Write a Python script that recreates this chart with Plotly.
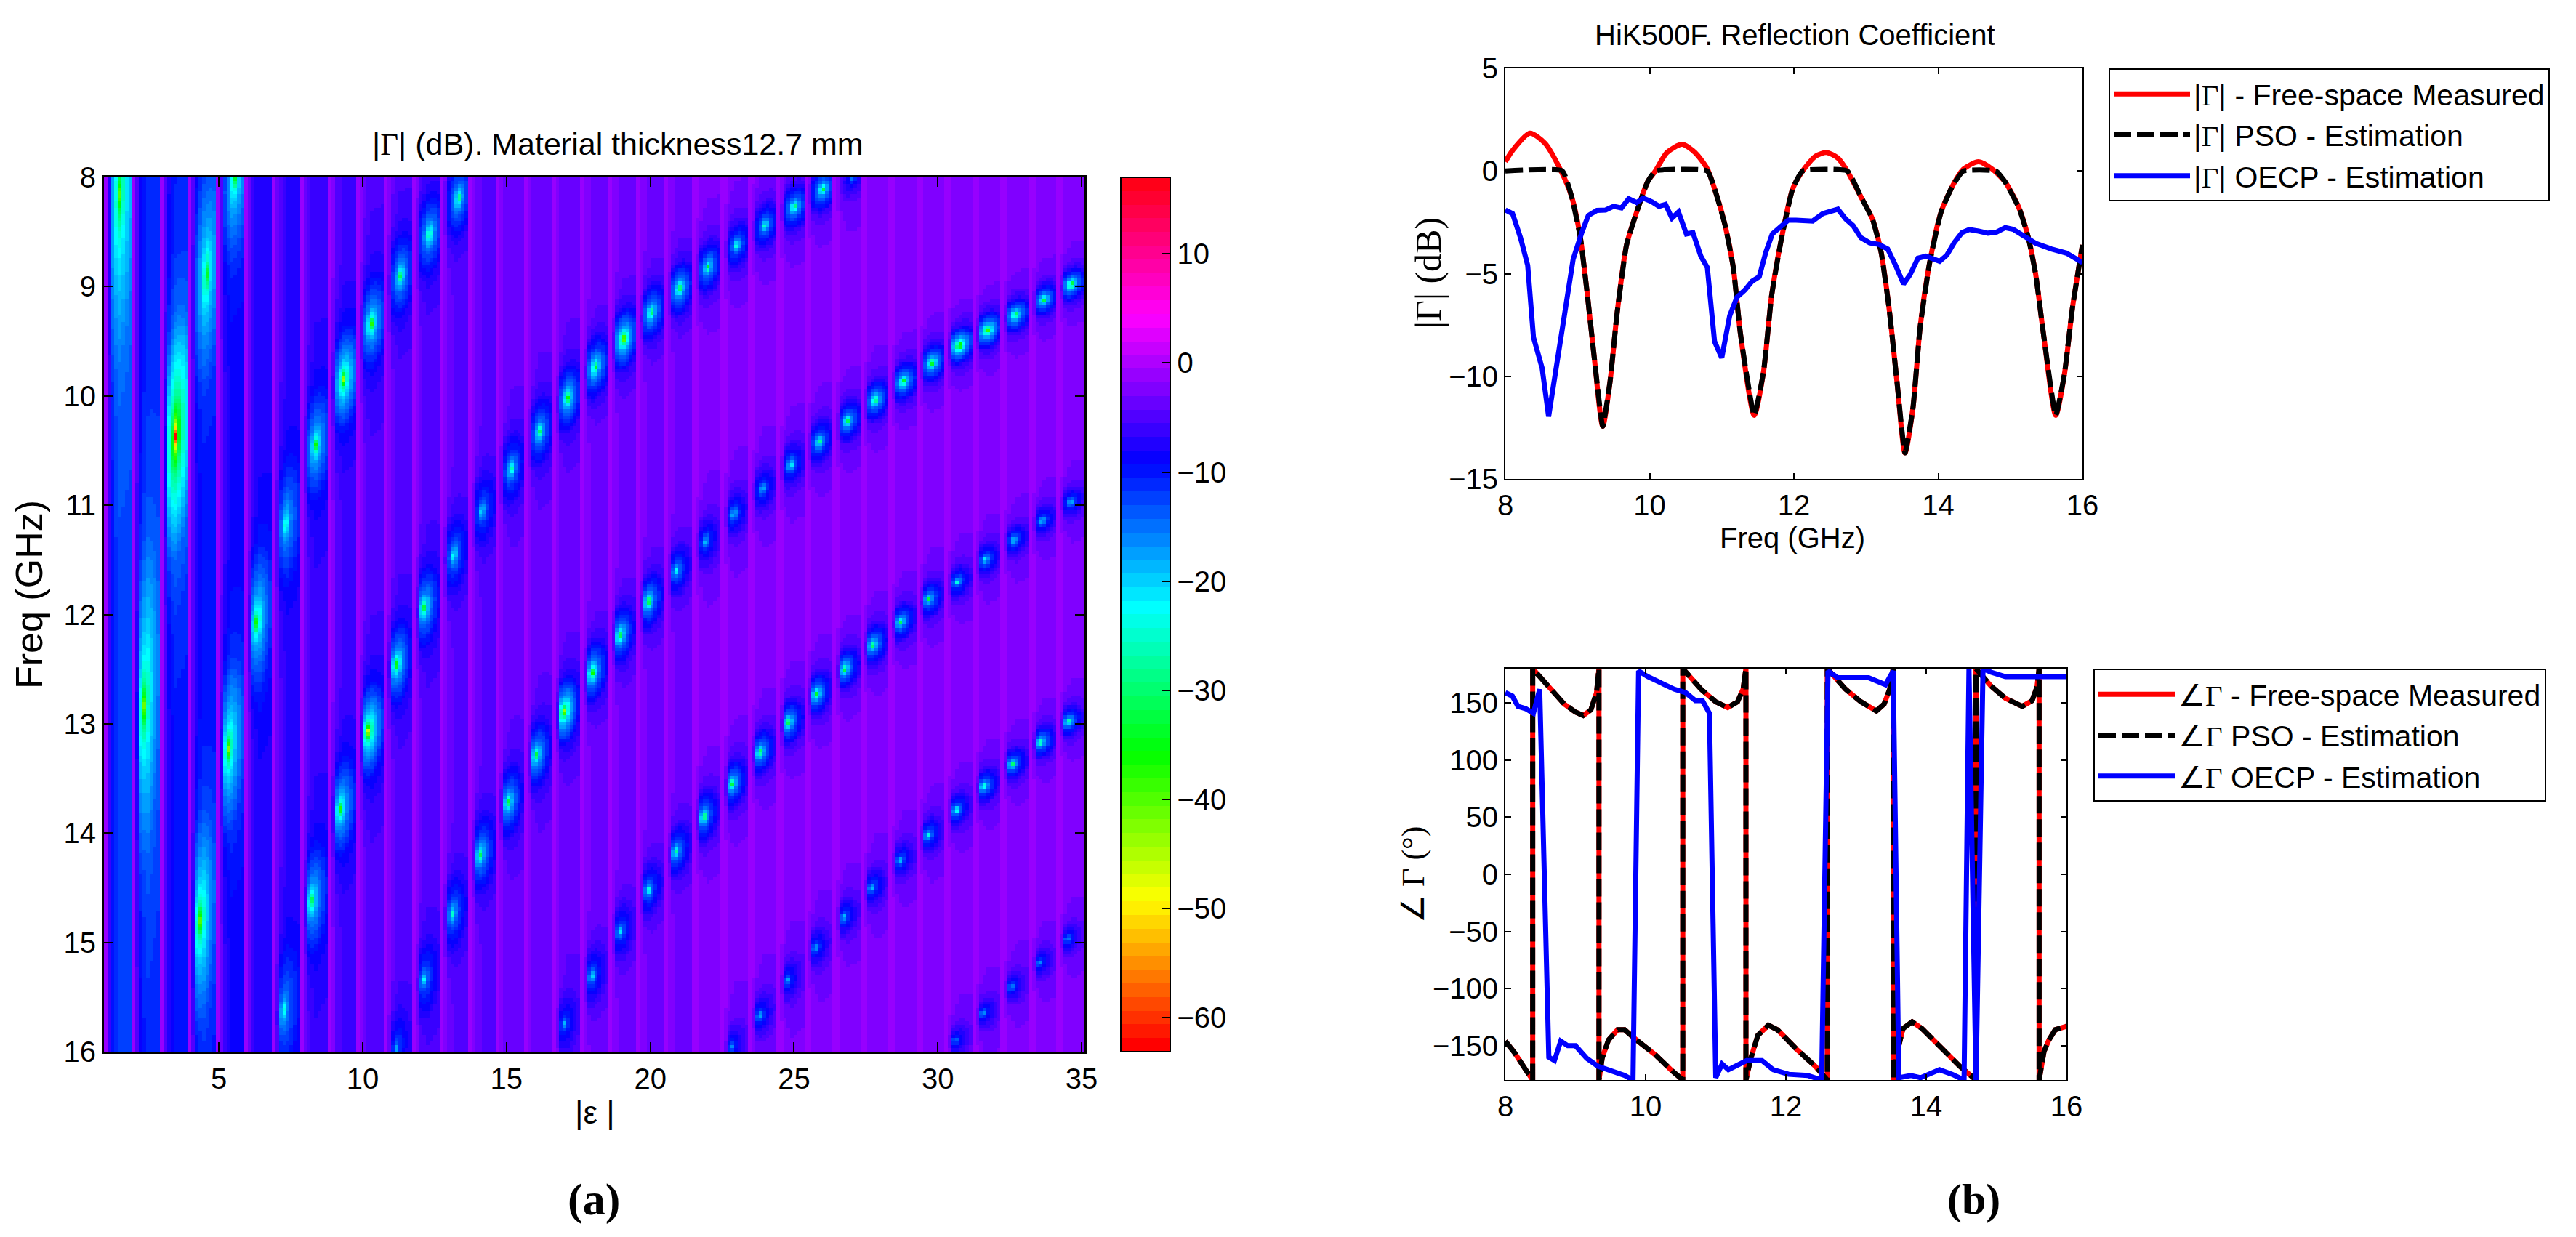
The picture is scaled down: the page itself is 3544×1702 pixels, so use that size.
import colorsys
import numpy as np
import plotly.graph_objects as go

W, H = 3544, 1702
GAMMA = "<span style=\"font-family:'Liberation Serif'\">Γ</span>"
SANS = "Liberation Sans"

# --- panel (a): notches, one block per ridge ----------------------------------
# stripe index, centre frequency (GHz), depth (dB), position across the stripe
m1_stripe = [4, 3, 2, 1, 0]
m1_freq = [8.0, 8.9, 10.37, 12.84, 8.15]
m1_db = [-32, -32, -58, -36, -32]
m1_frac = [.67, .66, .56, .43, .57]

r0_stripe = [12, 11, 10, 9, 8, 7, 6, 5, 4, 3]
r0_freq = [8.19, 8.52, 8.9, 9.34, 9.85, 10.45, 11.17, 12.07, 13.23, 14.81]
r0_db = [-33, -33, -33, -37, -45, -33, -28, -35, -40, -38]
r0_frac = [.66, .62, .58, .55, .56, .56, .49, .45, .44, .42]

r1_stripe = [26, 25, 24, 23, 22, 21, 20, 19, 18, 17, 16, 15, 14, 13, 12, 11, 10, 9, 8, 7, 6]
r1_freq = [8.01, 8.11, 8.27, 8.44, 8.62, 8.82, 9.02, 9.24, 9.48, 9.74, 10.02, 10.33, 10.67,
           11.05, 11.46, 11.94, 12.46, 13.07, 13.78, 14.62, 15.63]
r1_db = [-18, -38, -37, -32, -30, -36, -38, -38, -48, -40, -38, -33, -30, -25, -28, -36,
         -38, -48, -38, -34, -25]
r1_frac = [.72, .66, .65, .6, .6, .56, .54, .53, .55, .53, .55, .54, .53, .49, .48, .42,
           .43, .44, .43, .41, .4]

r2_stripe = [34, 33, 32, 31, 30, 29, 28, 27, 26, 25, 24, 23, 22, 21, 20, 19, 18, 17, 16, 15, 14, 13, 12, 11, 10]
r2_freq = [8.98, 9.12, 9.26, 9.4, 9.54, 9.7, 9.87, 10.04, 10.23, 10.42, 10.63, 10.85, 11.08,
           11.33, 11.6, 11.88, 12.19, 12.53, 12.89, 13.29, 13.72, 14.2, 14.74, 15.34, 15.97]
r2_db = [-43, -38, -42, -48, -52, -41, -41, -38, -36, -33, -28, -25, -25, -25, -28, -37,
         -38, -41, -50, -37, -36, -34, -28, -23, -18]
r2_frac = [.53, .54, .53, .53, .53, .55, .54, .52, .54, .53, .52, .5, .49, .48, .42, .43,
           .42, .43, .42, .42, .42, .42, .43, .42, .43]

r3_stripe = [34, 33, 32, 31, 30, 29, 28, 27, 26, 25, 24, 23, 22, 21, 20, 19, 18, 17, 16]
r3_freq = [10.97, 11.14, 11.32, 11.5, 11.7, 11.86, 12.07, 12.28, 12.5, 12.73, 12.99, 13.26,
           13.55, 13.85, 14.17, 14.52, 14.9, 15.31, 15.75]
r3_db = [-25, -26, -27, -28, -28, -33, -35, -37, -38, -38, -38, -37, -37, -36, -32, -28, -25, -25, -20]
r3_frac = [.5, .5, .48, .46, .45, .44, .44, .44, .43, .43, .43, .42, .42, .41, .41, .42, .42, .4, .42]

r4_stripe = [34, 33, 32, 31, 30, 29, 28, 27, 26, 25, 24, 23, 22]
r4_freq = [12.98, 13.17, 13.37, 13.57, 13.79, 14.02, 14.25, 14.5, 14.77, 15.05, 15.35, 15.67, 15.96]
r4_db = [-34, -37, -33, -34, -30, -28, -25, -25, -25, -23, -22, -23, -20]
r4_frac = [.42, .42, .42, .41, .41, .41, .41, .4, .4, .4, .4, .4, .4]

r5_stripe = [34, 33, 32, 31, 30]
r5_freq = [14.97, 15.19, 15.41, 15.65, 15.9]
r5_db = [-22, -22, -22, -22, -20]
r5_frac = [.38, .38, .38, .38, .38]

# background level of each stripe (dB), and its gradient across one stripe
stripe_level = [-12, -10.5, -9.5, -9, -8, -7, -6.5, -6, -5.5, -5, -4.5, -4.5, -4, -4, -3.5, -3.5, -3.5, -3,
                -3, -3, -3, -2.5, -2.5, -2.5, -2.5, -2.5, -2.5, -2.5, -2.5, -2.5, -2.5, -2.5, -2.5, -2.5, -2.5]
stripe_shape = [0.05, 0.45, 0.75, 0.9, 1, 1, 1, 1]
spot_mask = [0.02, 0.3, 1, 1, 1, 1, 1, 1]
# vertical size of a notch in each stripe (GHz)
spot_height = [1.1, 1.05, .75, .7, .55, .47, .42, .36, .32, .3, .28, .27, .26, .25, .24, .23, .22, .21,
               .2, .19, .18, .18, .17, .16, .155, .15, .14, .14, .13, .13, .12, .12, .115, .11, .11]
spot_width = 0.42
spot_r = [0, .1, .2, .35, .5, .75, 1, 1.5, 2.2, 3.5]
spot_drop = [1, .75, .55, .42, .33, .25, .19, .08, .03, 0]

# panel (a) axis and colour scale
eps_range = [1, 35.1]
freq_range = [16, 8]
db_range = [-63.1, 17]
cbar_ticks = [-60, -50, -40, -30, -20, -10, 0, 10]

# --- panel (b): curves -------------------------------------------------------
mag_freq = [8, 8.1, 8.34, 8.55, 8.76, 8.92, 9.04, 9.13, 9.23, 9.35, 9.45, 9.55, 9.68, 9.82, 9.97, 10.08,
            10.24, 10.45, 10.63, 10.8, 10.92, 11.05, 11.16, 11.26, 11.45, 11.58, 11.69, 11.82, 11.98,
            12.12, 12.3, 12.45, 12.61, 12.74, 12.93, 13.09, 13.21, 13.32, 13.43, 13.54, 13.65, 13.75,
            13.88, 14.04, 14.2, 14.35, 14.56, 14.75, 14.93, 15.12, 15.25, 15.35, 15.46, 15.63, 15.75,
            15.86, 16]
mag_measured = [.45, 1.0, 1.84, 1.35, .09, -1.26, -3.25, -5.8, -9, -12.43, -10.3, -6.9, -3.6, -2, -.54, 0,
                .9, 1.3, .9, .1, -1.08, -2.7, -4.7, -7.95, -11.9, -9.76, -6.1, -3.43, -.9,
                0, .72, .9, .63, 0, -1.26, -2.35, -3.97, -6.7, -10.3, -13.73, -11.56, -7.6,
                -4.5, -2, -.72, .09, .45, .09, -.54, -1.8, -3.25, -5, -7.95, -11.9, -9.9,
                -6.7, -3.6]
mag_pso_freq = [8, 8.79, 8.92, 9.04, 9.13, 9.23, 9.35, 9.45, 9.55, 9.68, 9.82, 9.97, 10.08,
                10.8, 10.92, 11.05, 11.16, 11.26, 11.45, 11.58, 11.69, 11.82, 11.98,
                12.12, 12.74, 12.93, 13.09, 13.21, 13.32, 13.43, 13.54, 13.65, 13.75,
                13.88, 14.04, 14.2, 14.35, 14.8, 14.93, 15.12, 15.25, 15.35, 15.46, 15.63, 15.75,
                15.86, 16]
mag_pso = [0, 0, -1.26, -3.25, -5.8, -9, -12.43, -10.3, -6.9, -3.6, -2, -.54, 0,
           0, -1.08, -2.7, -4.7, -7.95, -11.9, -9.76, -6.1, -3.43, -.9,
           0, 0, -1.26, -2.35, -3.97, -6.7, -10.3, -13.73, -11.56, -7.6,
           -4.5, -2, -.72, 0, 0, -.54, -1.8, -3.25, -5, -7.95, -11.9, -9.9,
           -6.7, -3.6]
oecp_freq = [8, 8.1, 8.21, 8.31, 8.39, 8.51, 8.6, 8.73, 8.84, 8.94, 9.06, 9.15, 9.27, 9.39, 9.5, 9.61, 9.71,
             9.82, 9.91, 10.03, 10.13, 10.22, 10.31, 10.4, 10.51, 10.6, 10.71, 10.8, 10.9, 11, 11.11, 11.21,
             11.32, 11.42, 11.52, 11.61, 11.7, 11.82, 11.92, 12.03, 12.14, 12.26, 12.4, 12.61, 12.72, 12.82,
             12.93, 13.05, 13.18, 13.3, 13.41, 13.52, 13.61, 13.72, 13.83, 13.93, 14.02, 14.12, 14.22, 14.33,
             14.43, 14.56, 14.69, 14.81, 14.93, 15.04, 15.2, 15.35, 15.57, 15.78, 16]
mag_oecp = [-1.9, -2.08, -3.25, -4.6, -8.1, -9.6, -11.96, -9, -6.7, -4.3, -3, -2.17, -1.92, -1.9, -1.72, -1.8, -1.35,
            -1.54, -1.32, -1.5, -1.72, -1.63, -2.3, -2, -3.07, -3, -4.15, -4.7, -8.3, -9.1, -7.05, -6.15,
            -5.8, -5.37, -5.15, -3.97, -3.07, -2.7, -2.4, -2.4, -2.4, -2.44, -2.08, -1.86, -2.35, -2.66,
            -3.25, -3.5, -3.58, -3.8, -4.6, -5.5, -5.05, -4.25, -4.15, -4.3, -4.4, -4.1, -3.5, -3,
            -2.85, -2.93, -3.03, -2.98, -2.76, -2.84, -3.2, -3.52, -3.8, -4, -4.46]

ang_freq = [8, 8.13, 8.29, 8.37, 8.39, 8.39, 8.62, 8.84, 9, 9.11, 9.22, 9.3, 9.335, 9.335, 9.38, 9.47, 9.6, 9.7,
            9.87, 10.14, 10.36, 10.53, 10.53, 10.79, 11, 11.17, 11.31, 11.39, 11.43, 11.43, 11.5, 11.6, 11.75,
            11.88, 12.15, 12.42, 12.59, 12.59, 12.85, 13.07, 13.29, 13.4, 13.48, 13.53, 13.53, 13.59, 13.67,
            13.8, 13.94, 14.21, 14.48, 14.71, 14.71, 14.92, 15.13, 15.37, 15.51, 15.58, 15.61, 15.61, 15.68,
            15.75, 15.84, 16]
ang_measured = [-146, -156, -171, -178, -180, 180, 164, 149, 142, 139, 144, 159, 180, -180, -161, -145, -136, -136,
                -145, -158, -171, -180, 180, 162, 151, 146, 151, 162, 180, -180, -161, -141, -132,
                -136, -153, -168, -180, 180, 162, 151, 143, 149, 162, 180, -180, -155, -135,
                -129, -135, -151, -168, -180, 180, 165, 154, 147, 152, 164, 180, -180, -155,
                -145, -136, -133]
ang_pso = list(ang_measured)
ang_oecp_freq = [8, 8.1, 8.18, 8.29, 8.4, 8.49, 8.62, 8.7, 8.79, 8.89, 9, 9.16, 9.32, 9.54, 9.7, 9.82, 9.9,
                 10.03, 10.19, 10.41, 10.57, 10.71, 10.81, 10.91, 11, 11.09, 11.18, 11.44, 11.66, 11.82, 12.04,
                 12.31, 12.51, 12.6, 12.74, 13.18, 13.42, 13.53, 13.61, 13.78, 13.92, 14.19, 14.37, 14.54,
                 14.61, 14.71, 14.81, 14.92, 15.13, 15.57, 16]
ang_oecp = [159, 156, 147, 145, 141, 162, -160, -163, -146, -150, -150, -161, -168, -172, -176, -180, 178,
            173, 168, 162, 159, 152, 152, 141, -178, -166, -171, -163, -163, -171, -175,
            -176, -180, 178, 172, 172, 166, 178, -178, -176, -178, -171, -175, -180,
            180, -180, 180, 177, 173, 173, 173]

mag_ticks = [5, 0, -5, -10, -15]
ang_ticks = [-150, -100, -50, 0, 50, 100, 150]
freq_ticks = [8, 10, 12, 14, 16]

# assemble the map from the notch tables
n_sub = len(stripe_shape)
n_rows = 260
stripe_w = (eps_range[1] - eps_range[0]) / len(stripe_level)
freq_cells = 8 + (np.arange(n_rows) + .5) * 8 / n_rows
sub_pos = (np.arange(n_sub) + .5) / n_sub
eps_cells = [eps_range[0] + (s + p) * stripe_w for s in range(len(stripe_level)) for p in sub_pos]

z = np.zeros((n_rows, len(stripe_level) * n_sub))
for s, level in enumerate(stripe_level):
    z[:, s * n_sub:(s + 1) * n_sub] = -0.5 + level * np.array(stripe_shape)

ridges = [(m1_stripe, m1_freq, m1_db, m1_frac), (r0_stripe, r0_freq, r0_db, r0_frac),
          (r1_stripe, r1_freq, r1_db, r1_frac), (r2_stripe, r2_freq, r2_db, r2_frac),
          (r3_stripe, r3_freq, r3_db, r3_frac), (r4_stripe, r4_freq, r4_db, r4_frac),
          (r5_stripe, r5_freq, r5_db, r5_frac)]
for stripes, freqs, dbs, fracs in ridges:
    for s, f0, db, frac in zip(stripes, freqs, dbs, fracs):
        dx = (sub_pos - frac) / spot_width
        dy = (freq_cells[:, None] - f0) / spot_height[s] + .3 * dx
        r = np.hypot(dx, dy)
        z[:, s * n_sub:(s + 1) * n_sub] += np.interp(r, spot_r, spot_drop) * (db + 3) * np.array(spot_mask)

colors = [colorsys.hsv_to_rgb(i / 64, 1, 1) for i in range(64)]
hsv_scale = []
for i, c in enumerate(colors):
    rgb = "rgb(%d,%d,%d)" % tuple(round(v * 255) for v in c)
    hsv_scale += [[i / 64, rgb], [(i + 1) / 64, rgb]]


def dom_x(a, b):
    return [a / W, b / W]


def dom_y(top, bottom):
    return [1 - bottom / H, 1 - top / H]


fig = go.Figure()

fig.add_trace(go.Heatmap(
    x=eps_cells, y=freq_cells, z=z, zmin=db_range[0], zmax=db_range[1], colorscale=hsv_scale,
    xaxis="x", yaxis="y", showlegend=False,
    colorbar=dict(x=1542 / W, xanchor="left", xpad=0, y=1 - 244 / H, yanchor="top", ypad=0,
                  len=1203 / H, lenmode="fraction", thickness=68, thicknessmode="pixels",
                  tickvals=cbar_ticks, ticks="inside", ticklen=13, tickwidth=2, tickcolor="black",
                  outlinecolor="black", outlinewidth=2,
                  tickfont=dict(family=SANS, size=40, color="black")),
))

red, blue = "#ff0000", "#0000ff"
curve = dict(width=7)
smooth = dict(shape="spline", smoothing=0.7)
fig.add_trace(go.Scatter(x=mag_freq, y=mag_measured, mode="lines", line=dict(color=red, **curve, **smooth),
                         name=f"|{GAMMA}| - Free-space Measured", xaxis="x2", yaxis="y2", legend="legend"))
fig.add_trace(go.Scatter(x=mag_pso_freq, y=mag_pso, mode="lines",
                         line=dict(color="black", dash="24px,8px", **curve, shape="spline", smoothing=0.4),
                         name=f"|{GAMMA}| PSO - Estimation", xaxis="x2", yaxis="y2", legend="legend"))
fig.add_trace(go.Scatter(x=oecp_freq, y=mag_oecp, mode="lines", line=dict(color=blue, **curve),
                         name=f"|{GAMMA}| OECP - Estimation", xaxis="x2", yaxis="y2", legend="legend"))
fig.add_trace(go.Scatter(x=ang_freq, y=ang_measured, mode="lines", line=dict(color=red, **curve),
                         name=f"∠{GAMMA} - Free-space Measured", xaxis="x3", yaxis="y3", legend="legend2"))
fig.add_trace(go.Scatter(x=ang_freq, y=ang_pso, mode="lines", line=dict(color="black", dash="24px,8px", **curve),
                         name=f"∠{GAMMA} PSO - Estimation", xaxis="x3", yaxis="y3", legend="legend2"))
fig.add_trace(go.Scatter(x=ang_oecp_freq, y=ang_oecp, mode="lines", line=dict(color=blue, **curve),
                         name=f"∠{GAMMA} OECP - Estimation", xaxis="x3", yaxis="y3", legend="legend2"))

left_font = dict(family=SANS, size=40, color="black")
right_font = dict(family=SANS, size=40, color="black")


def frame(size_font, ticklen, lw):
    return dict(showline=True, linecolor="black", linewidth=lw, mirror="ticks", ticks="inside", ticklen=ticklen,
                tickwidth=2, tickcolor="black", showgrid=False, zeroline=False, tickfont=size_font)


layout_legend = dict(bgcolor="white", bordercolor="black", borderwidth=2, font=dict(family=SANS, size=41, color="black"),
                     itemwidth=105, xanchor="left", yanchor="top", tracegroupgap=0)


def note(text, x, y, size, family=SANS, angle=0):
    return dict(text=text, x=x / W, y=1 - y / H, xref="paper", yref="paper", showarrow=False,
                xanchor="center", yanchor="middle", textangle=angle,
                font=dict(family=family, size=size, color="black"))


fig.update_layout(
    width=W, height=H, margin=dict(l=0, r=0, t=0, b=0, autoexpand=False), paper_bgcolor="white", plot_bgcolor="white",
    xaxis=dict(domain=dom_x(143, 1492), range=eps_range, tickvals=[5, 10, 15, 20, 25, 30, 35],
               anchor="y", **frame(left_font, 13, 3)),
    yaxis=dict(domain=dom_y(244, 1447), range=freq_range, tickvals=[8, 9, 10, 11, 12, 13, 14, 15, 16],
               anchor="x", **frame(left_font, 13, 3)),
    xaxis2=dict(domain=dom_x(2071, 2865), range=[8, 16], tickvals=freq_ticks, anchor="y2", **frame(right_font, 8, 2)),
    yaxis2=dict(domain=dom_y(94, 659), range=[-15, 5], tickvals=mag_ticks, anchor="x2", **frame(right_font, 8, 2)),
    xaxis3=dict(domain=dom_x(2071, 2843), range=[8, 16], tickvals=freq_ticks, anchor="y3", **frame(right_font, 8, 2)),
    yaxis3=dict(domain=dom_y(920, 1486), range=[-180, 180], tickvals=ang_ticks, anchor="x3", **frame(right_font, 8, 2)),
    legend=dict(x=2901 / W, y=1 - 94 / H, **layout_legend),
    legend2=dict(x=2880 / W, y=1 - 920 / H, **layout_legend),
    annotations=[
        note(f"|{GAMMA}| (dB). Material thickness12.7 mm", 850, 198, 43),
        note("|ε |", 818, 1530, 44),
        note("Freq (GHz)", 40, 818, 52, angle=-90),
        note("<b>(a)</b>", 817, 1650, 62, "Liberation Serif"),
        note("HiK500F. Reflection Coefficient", 2469, 48, 40),
        note("Freq (GHz)", 2466, 740, 40),
        note(f"|{GAMMA}| (dB)", 1965, 376, 50, "Liberation Serif", -90),
        note(f"∠ {GAMMA} (°)", 1944, 1204, 44, "Liberation Serif", -90),
        note("<b>(b)</b>", 2715, 1650, 60, "Liberation Serif"),
    ],
)

fig.write_html("out.html", config=dict(displayModeBar=False), post_script="document.body.style.margin='0'")
